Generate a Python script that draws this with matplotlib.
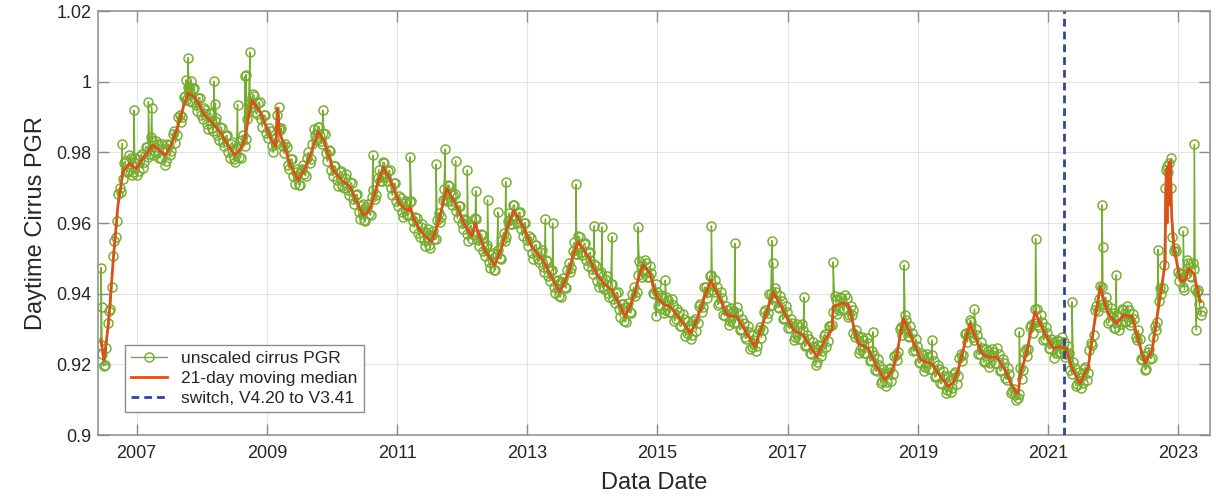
import numpy as np
import matplotlib
matplotlib.use("Agg")
import matplotlib.pyplot as plt

plt.rcParams['font.family'] = ['Liberation Sans', 'DejaVu Sans']

# ---------------- data ----------------
# 21-day moving median: (decimal year, value)
median_t = [2006.45, 2006.50, 2006.57, 2006.64, 2006.71, 2006.79, 2006.89, 2006.99,
            2007.12, 2007.25, 2007.35, 2007.45, 2007.55, 2007.63, 2007.72, 2007.79,
            2007.89, 2007.96, 2008.04, 2008.17, 2008.30, 2008.40, 2008.51, 2008.58,
            2008.66, 2008.72, 2008.77, 2008.91, 2009.07, 2009.14, 2009.16, 2009.20,
            2009.25, 2009.35, 2009.48, 2009.56, 2009.64, 2009.72, 2009.79, 2009.87,
            2009.95, 2010.02, 2010.15, 2010.28, 2010.38, 2010.48, 2010.55, 2010.61,
            2010.70, 2010.79, 2010.92, 2011.04, 2011.12, 2011.17, 2011.20, 2011.25,
            2011.35, 2011.45, 2011.53, 2011.63, 2011.70, 2011.76, 2011.85, 2011.92,
            2012.05, 2012.15, 2012.20, 2012.27, 2012.35, 2012.50, 2012.61, 2012.70,
            2012.79, 2012.94, 2013.07, 2013.17, 2013.27, 2013.37, 2013.50, 2013.63,
            2013.70, 2013.78, 2013.94, 2014.09, 2014.20, 2014.30, 2014.40, 2014.50,
            2014.58, 2014.65, 2014.72, 2014.78, 2014.88, 2014.99, 2015.10, 2015.20,
            2015.36, 2015.51, 2015.58, 2015.66, 2015.74, 2015.82, 2015.97, 2016.07,
            2016.22, 2016.37, 2016.50, 2016.62, 2016.70, 2016.78, 2016.93, 2017.09,
            2017.24, 2017.35, 2017.45, 2017.57, 2017.68, 2017.70, 2017.83, 2017.93,
            2018.08, 2018.24, 2018.35, 2018.49, 2018.58, 2018.65, 2018.72, 2018.78,
            2018.90, 2019.05, 2019.21, 2019.35, 2019.47, 2019.55, 2019.62, 2019.71,
            2019.80, 2019.90, 2019.98, 2020.10, 2020.21, 2020.34, 2020.45, 2020.52,
            2020.55, 2020.57, 2020.67, 2020.80, 2020.95, 2021.08, 2021.18, 2021.28,
            2021.36, 2021.49, 2021.62, 2021.70, 2021.80, 2021.92, 2022.05, 2022.16,
            2022.29, 2022.39, 2022.49, 2022.60, 2022.70, 2022.80, 2022.81, 2022.82,
            2022.83, 2022.84, 2022.85, 2022.86, 2022.87, 2022.88, 2022.90, 2022.94,
            2023.04, 2023.11, 2023.16, 2023.24, 2023.34]
median_v = [0.9270, 0.9212, 0.9320, 0.9495, 0.9646, 0.9745, 0.9769, 0.9754,
            0.9790, 0.9820, 0.9805, 0.9792, 0.9830, 0.9872, 0.9930, 0.9967,
            0.9957, 0.9935, 0.9905, 0.9882, 0.9853, 0.9820, 0.9792, 0.9805,
            0.9835, 0.9900, 0.9948, 0.9910, 0.9835, 0.9816, 0.9925, 0.9850,
            0.9830, 0.9769, 0.9721, 0.9745, 0.9778, 0.9820, 0.9858, 0.9835,
            0.9790, 0.9750, 0.9721, 0.9702, 0.9660, 0.9622, 0.9630, 0.9655,
            0.9710, 0.9759, 0.9712, 0.9655, 0.9640, 0.9636, 0.9645, 0.9615,
            0.9580, 0.9560, 0.9547, 0.9599, 0.9650, 0.9698, 0.9670, 0.9646,
            0.9590, 0.9563, 0.9600, 0.9560, 0.9523, 0.9481, 0.9533, 0.9590,
            0.9636, 0.9589, 0.9533, 0.9510, 0.9486, 0.9448, 0.9405, 0.9457,
            0.9505, 0.9547, 0.9504, 0.9448, 0.9425, 0.9410, 0.9375, 0.9335,
            0.9365, 0.9401, 0.9450, 0.9481, 0.9460, 0.9390, 0.9370, 0.9363,
            0.9325, 0.9288, 0.9315, 0.9354, 0.9400, 0.9438, 0.9382, 0.9339,
            0.9335, 0.9288, 0.9250, 0.9316, 0.9360, 0.9405, 0.9354, 0.9297,
            0.9283, 0.9250, 0.9221, 0.9269, 0.9297, 0.9363, 0.9373, 0.9370,
            0.9260, 0.9245, 0.9200, 0.9156, 0.9175, 0.9203, 0.9270, 0.9330,
            0.9278, 0.9212, 0.9203, 0.9165, 0.9137, 0.9150, 0.9184, 0.9250,
            0.9316, 0.9270, 0.9231, 0.9220, 0.9221, 0.9184, 0.9140, 0.9118,
            0.9125, 0.9170, 0.9231, 0.9349, 0.9288, 0.9245, 0.9250, 0.9245,
            0.9193, 0.9146, 0.9193, 0.9300, 0.9420, 0.9344, 0.9316, 0.9339,
            0.9335, 0.9269, 0.9203, 0.9240, 0.9363, 0.9486, 0.9700, 0.9750,
            0.9600, 0.9760, 0.9650, 0.9770, 0.9700, 0.9775, 0.9620, 0.9523,
            0.9434, 0.9438, 0.9471, 0.9457, 0.9377]

# unscaled cirrus PGR, read twice a month starting 2006.45 ...
green_start = 2006.45
green_step = 1.0 / 24.0
green_vals = [
    0.9255, 0.9195, 0.9245, 0.9350, 0.9420, 0.9550, 0.9605, 0.9700, 0.9725, 0.9775, 0.9750, 0.9785,
    0.9745, 0.9770, 0.9748, 0.9795, 0.9772, 0.9815, 0.9795, 0.9835, 0.9800, 0.9825, 0.9785, 0.9810,
    0.9775, 0.9822, 0.9805, 0.9860, 0.9850, 0.9905, 0.9900, 0.9960, 0.9985, 0.9945, 0.9980, 0.9935,
    0.9955, 0.9905, 0.9925, 0.9880, 0.9910, 0.9868, 0.9890, 0.9850, 0.9872, 0.9828, 0.9845, 0.9800,
    0.9825, 0.9780, 0.9812, 0.9788, 0.9835, 0.9818, 0.9895, 0.9940, 0.9965, 0.9915, 0.9940, 0.9895,
    0.9905, 0.9855, 0.9868, 0.9818, 0.9838, 0.9905, 0.9862, 0.9818, 0.9825, 0.9765, 0.9780, 0.9732,
    0.9745, 0.9708, 0.9752, 0.9738, 0.9785, 0.9770, 0.9825, 0.9848, 0.9872, 0.9832, 0.9855, 0.9798,
    0.9808, 0.9750, 0.9762, 0.9722, 0.9745, 0.9705, 0.9728, 0.9692, 0.9715, 0.9668, 0.9680, 0.9632,
    0.9648, 0.9608, 0.9645, 0.9625, 0.9675, 0.9668, 0.9728, 0.9718, 0.9772, 0.9730, 0.9748, 0.9700,
    0.9712, 0.9662, 0.9676, 0.9632, 0.9656, 0.9622, 0.9660, 0.9605, 0.9618, 0.9572, 0.9590, 0.9553,
    0.9575, 0.9538, 0.9565, 0.9555, 0.9608, 0.9603, 0.9666, 0.9668, 0.9708, 0.9662, 0.9680, 0.9634,
    0.9648, 0.9600, 0.9612, 0.9568, 0.9588, 0.9555, 0.9615, 0.9552, 0.9570, 0.9520, 0.9533, 0.9490,
    0.9510, 0.9468, 0.9512, 0.9500, 0.9553, 0.9548, 0.9606, 0.9596, 0.9650, 0.9610, 0.9628, 0.9583,
    0.9600, 0.9551, 0.9564, 0.9516, 0.9537, 0.9497, 0.9518, 0.9476, 0.9496, 0.9450, 0.9464, 0.9420,
    0.9437, 0.9392, 0.9434, 0.9420, 0.9468, 0.9461, 0.9521, 0.9512, 0.9563, 0.9519, 0.9540, 0.9496,
    0.9515, 0.9469, 0.9485, 0.9437, 0.9457, 0.9418, 0.9441, 0.9403, 0.9428, 0.9385, 0.9402, 0.9356,
    0.9370, 0.9322, 0.9363, 0.9347, 0.9400, 0.9392, 0.9452, 0.9477, 0.9464, 0.9488, 0.9446, 0.9458,
    0.9400, 0.9406, 0.9367, 0.9390, 0.9354, 0.9381, 0.9348, 0.9368, 0.9328, 0.9348, 0.9308, 0.9328,
    0.9288, 0.9308, 0.9282, 0.9328, 0.9318, 0.9370, 0.9362, 0.9418, 0.9405, 0.9452, 0.9405, 0.9420,
    0.9374, 0.9388, 0.9338, 0.9355, 0.9322, 0.9352, 0.9320, 0.9345, 0.9300, 0.9318, 0.9273, 0.9292,
    0.9250, 0.9268, 0.9252, 0.9307, 0.9298, 0.9353, 0.9344, 0.9400, 0.9388, 0.9406, 0.9360, 0.9378,
    0.9332, 0.9349, 0.9302, 0.9318, 0.9278, 0.9306, 0.9271, 0.9298, 0.9254, 0.9273, 0.9229, 0.9248,
    0.9206, 0.9253, 0.9238, 0.9286, 0.9265, 0.9308, 0.9347, 0.9382, 0.9353, 0.9389, 0.9356, 0.9387,
    0.9339, 0.9341, 0.9278, 0.9279, 0.9241, 0.9269, 0.9233, 0.9259, 0.9211, 0.9226, 0.9180, 0.9197,
    0.9153, 0.9172, 0.9150, 0.9190, 0.9174, 0.9227, 0.9235, 0.9306, 0.9312, 0.9326, 0.9276, 0.9290,
    0.9240, 0.9253, 0.9203, 0.9227, 0.9192, 0.9222, 0.9188, 0.9210, 0.9167, 0.9188, 0.9145, 0.9166,
    0.9127, 0.9157, 0.9132, 0.9178, 0.9166, 0.9228, 0.9226, 0.9289, 0.9288, 0.9321, 0.9270, 0.9282,
    0.9229, 0.9246, 0.9210, 0.9238, 0.9204, 0.9236, 0.9205, 0.9228, 0.9184, 0.9204, 0.9157, 0.9172,
    0.9124, 0.9112, 0.9105, 0.9190, 0.9183, 0.9242, 0.9242, 0.9312, 0.9318, 0.9356, 0.9306, 0.9321,
    0.9273, 0.9290, 0.9244, 0.9262, 0.9231, 0.9265, 0.9233, 0.9263, 0.9229, 0.9232, 0.9174, 0.9191,
    0.9144, 0.9162, 0.9146, 0.9192, 0.9175, 0.9260, 0.9284, 0.9366, 0.9384, 0.9420, 0.9362, 0.9367,
    0.9322, 0.9345, 0.9304, 0.9337, 0.9315, 0.9355, 0.9322, 0.9353, 0.9319, 0.9327, 0.9268, 0.9273,
    0.9213, 0.9185, 0.9234, 0.9216, 0.9277, 0.9296, 0.9379, 0.9399, 0.9482, 0.9760, 0.9770, 0.9560,
    0.9530, 0.9462, 0.9456, 0.9420, 0.9457, 0.9488, 0.9448, 0.9470, 0.9406, 0.9372, 0.9350]

# ... and the days in between (half a step later)
green_vals_mid = [
    0.9230, 0.9198, 0.9316, 0.9357, 0.9507, 0.9560, 0.9681, 0.9688, 0.9770, 0.9743, 0.9793, 0.9737,
    0.9783, 0.9737, 0.9790, 0.9756, 0.9816, 0.9787, 0.9843, 0.9793, 0.9833, 0.9785, 0.9823, 0.9765,
    0.9824, 0.9792, 0.9851, 0.9827, 0.9900, 0.9885, 0.9958, 0.9948, 0.9985, 0.9943, 0.9983, 0.9917,
    0.9955, 0.9893, 0.9921, 0.9867, 0.9911, 0.9861, 0.9898, 0.9836, 0.9870, 0.9817, 0.9848, 0.9785,
    0.9828, 0.9774, 0.9818, 0.9784, 0.9849, 0.9839, 0.9946, 0.9928, 0.9960, 0.9908, 0.9943, 0.9872,
    0.9905, 0.9840, 0.9861, 0.9800, 0.9825, 0.9870, 0.9868, 0.9797, 0.9815, 0.9753, 0.9781, 0.9711,
    0.9752, 0.9708, 0.9763, 0.9734, 0.9800, 0.9780, 0.9865, 0.9835, 0.9872, 0.9824, 0.9852, 0.9775,
    0.9804, 0.9734, 0.9760, 0.9706, 0.9747, 0.9699, 0.9738, 0.9679, 0.9712, 0.9654, 0.9681, 0.9612,
    0.9653, 0.9605, 0.9653, 0.9622, 0.9694, 0.9680, 0.9751, 0.9720, 0.9771, 0.9719, 0.9749, 0.9678,
    0.9712, 0.9647, 0.9672, 0.9616, 0.9661, 0.9623, 0.9661, 0.9587, 0.9615, 0.9561, 0.9597, 0.9536,
    0.9582, 0.9530, 0.9578, 0.9554, 0.9628, 0.9617, 0.9695, 0.9663, 0.9705, 0.9651, 0.9682, 0.9613,
    0.9649, 0.9584, 0.9608, 0.9550, 0.9594, 0.9567, 0.9612, 0.9536, 0.9565, 0.9507, 0.9537, 0.9472,
    0.9514, 0.9468, 0.9524, 0.9499, 0.9573, 0.9559, 0.9629, 0.9598, 0.9650, 0.9599, 0.9631, 0.9564,
    0.9601, 0.9536, 0.9558, 0.9499, 0.9539, 0.9490, 0.9525, 0.9461, 0.9493, 0.9437, 0.9467, 0.9401,
    0.9440, 0.9391, 0.9445, 0.9416, 0.9487, 0.9473, 0.9545, 0.9513, 0.9561, 0.9510, 0.9543, 0.9478,
    0.9517, 0.9455, 0.9479, 0.9419, 0.9460, 0.9412, 0.9450, 0.9391, 0.9427, 0.9374, 0.9404, 0.9335,
    0.9371, 0.9321, 0.9373, 0.9346, 0.9418, 0.9404, 0.9493, 0.9446, 0.9496, 0.9447, 0.9477, 0.9401,
    0.9428, 0.9365, 0.9397, 0.9344, 0.9390, 0.9347, 0.9386, 0.9323, 0.9358, 0.9308, 0.9343, 0.9280,
    0.9323, 0.9273, 0.9323, 0.9295, 0.9366, 0.9348, 0.9418, 0.9387, 0.9449, 0.9409, 0.9438, 0.9369,
    0.9406, 0.9341, 0.9365, 0.9311, 0.9359, 0.9318, 0.9361, 0.9298, 0.9329, 0.9276, 0.9308, 0.9243,
    0.9284, 0.9238, 0.9298, 0.9275, 0.9348, 0.9331, 0.9400, 0.9369, 0.9417, 0.9363, 0.9394, 0.9327,
    0.9366, 0.9304, 0.9328, 0.9270, 0.9314, 0.9271, 0.9313, 0.9251, 0.9284, 0.9231, 0.9264, 0.9199,
    0.9255, 0.9224, 0.9280, 0.9248, 0.9309, 0.9310, 0.9393, 0.9343, 0.9391, 0.9353, 0.9397, 0.9335,
    0.9365, 0.9288, 0.9297, 0.9232, 0.9277, 0.9233, 0.9274, 0.9210, 0.9239, 0.9183, 0.9214, 0.9147,
    0.9188, 0.9139, 0.9188, 0.9154, 0.9223, 0.9213, 0.9299, 0.9284, 0.9339, 0.9281, 0.9308, 0.9237,
    0.9272, 0.9206, 0.9233, 0.9182, 0.9229, 0.9187, 0.9227, 0.9164, 0.9198, 0.9147, 0.9181, 0.9119,
    0.9167, 0.9123, 0.9173, 0.9144, 0.9219, 0.9209, 0.9286, 0.9264, 0.9325, 0.9276, 0.9301, 0.9228,
    0.9263, 0.9206, 0.9242, 0.9193, 0.9242, 0.9203, 0.9245, 0.9181, 0.9214, 0.9161, 0.9190, 0.9120,
    0.9130, 0.9100, 0.9115, 0.9159, 0.9235, 0.9224, 0.9305, 0.9290, 0.9357, 0.9311, 0.9339, 0.9269,
    0.9307, 0.9245, 0.9271, 0.9219, 0.9270, 0.9231, 0.9276, 0.9221, 0.9251, 0.9183, 0.9208, 0.9140,
    0.9178, 0.9132, 0.9187, 0.9156, 0.9240, 0.9254, 0.9353, 0.9350, 0.9422, 0.9371, 0.9390, 0.9317,
    0.9359, 0.9303, 0.9339, 0.9298, 0.9357, 0.9321, 0.9366, 0.9311, 0.9343, 0.9278, 0.9296, 0.9215,
    0.9224, 0.9188, 0.9243, 0.9219, 0.9309, 0.9320, 0.9417, 0.9416, 0.9700, 0.9745, 0.9700, 0.9520,
    0.9521, 0.9437, 0.9456, 0.9411, 0.9495, 0.9450, 0.9487, 0.9413, 0.9409, 0.9341]

# isolated high / low daily values (outliers)
spike_t = [2006.455, 2006.46, 2006.78, 2006.96, 2007.18, 2007.23, 2007.76, 2007.79,
           2007.83, 2008.19, 2008.21, 2008.55, 2008.66, 2008.68, 2008.74, 2009.18,
           2009.86, 2010.63, 2011.20, 2011.60, 2011.74, 2011.90, 2012.08, 2012.21,
           2012.39, 2012.55, 2012.67, 2013.28, 2013.39, 2013.75, 2014.03, 2014.15,
           2014.30, 2014.70, 2014.98, 2015.12, 2015.83, 2016.19, 2016.76, 2016.77,
           2017.25, 2017.70, 2018.00, 2018.31, 2018.79, 2019.22, 2019.87, 2020.56,
           2020.81, 2021.37, 2021.83, 2021.84, 2022.05, 2022.69, 2022.81, 2022.89,
           2023.08, 2023.25, 2023.28]
spike_v = [0.9474, 0.9363, 0.9825, 0.9919, 0.9943, 0.9926, 1.0005, 1.0068,
           1.0003, 1.0001, 0.9938, 0.9935, 1.0016, 1.0020, 1.0083, 0.9927,
           0.9919, 0.9792, 0.9787, 0.9766, 0.9809, 0.9776, 0.9750, 0.9691,
           0.9665, 0.9630, 0.9717, 0.9611, 0.9600, 0.9709, 0.9592, 0.9589,
           0.9561, 0.9589, 0.9337, 0.9438, 0.9592, 0.9542, 0.9550, 0.9488,
           0.9390, 0.9490, 0.9354, 0.9292, 0.9481, 0.9269, 0.9356, 0.9292,
           0.9556, 0.9377, 0.9651, 0.9533, 0.9453, 0.9525, 0.9750, 0.9783,
           0.9577, 0.9823, 0.9297]

switch_date = 2021.25
x_ticks = [2007, 2009, 2011, 2013, 2015, 2017, 2019, 2021, 2023]
y_ticks = [0.90, 0.92, 0.94, 0.96, 0.98, 1.00, 1.02]
y_tick_labels = ['0.9', '0.92', '0.94', '0.96', '0.98', '1', '1.02']

# ---------------- build ----------------
t_a = green_start + green_step * np.arange(len(green_vals))
t_b = green_start + green_step * (np.arange(len(green_vals_mid)) + 0.5)
all_t = np.concatenate([t_a, t_b, np.array(spike_t)])
all_v = np.concatenate([np.array(green_vals), np.array(green_vals_mid), np.array(spike_v)])
order = np.argsort(all_t, kind='stable')
all_t, all_v = all_t[order], all_v[order]

GREEN = '#77AC30'
RED = '#D95319'
BLUE = '#33449C'
AXC = '#8c8c8c'
TXT = '#262626'

fig = plt.figure(figsize=(12.16, 4.98), dpi=100)
ax = fig.add_axes([0.0808, 0.1265, 0.9143, 0.8514])

ax.plot(all_t, all_v, '-o', color=GREEN, lw=1.0, ms=6.5, mew=1.05,
        mfc='none', mec=GREEN, label='unscaled cirrus PGR', zorder=2)
ax.plot(median_t, median_v, '-', color=RED, lw=2.0,
        label='21-day moving median', zorder=3)
ax.axvline(switch_date, color=BLUE, lw=2.0, dashes=(2.8, 1.8),
           label='switch, V4.20 to V3.41', zorder=4)

ax.set_xlim(2006.41, 2023.49)
ax.set_ylim(0.9, 1.02)
ax.set_xticks(x_ticks)
ax.set_xticklabels([str(v) for v in x_ticks])
ax.set_yticks(y_ticks)
ax.set_yticklabels(y_tick_labels)

ax.grid(True, color='#e4e4e4', lw=0.8, zorder=0)
ax.set_axisbelow(True)
for s in ax.spines.values():
    s.set_color(AXC)
    s.set_linewidth(1.1)
ax.tick_params(direction='in', length=8, width=1.0, top=True, right=True,
               color=AXC, labelcolor=TXT, labelsize=13)
ax.tick_params(axis='x', pad=7)
ax.tick_params(axis='y', pad=5)

ax.set_xlabel('Data Date', fontsize=17, color=TXT)
ax.set_ylabel('Daytime Cirrus PGR', fontsize=17, color=TXT)
ax.xaxis.set_label_coords(0.5, -0.088)
ax.yaxis.set_label_coords(-0.046, 0.5)

leg = ax.legend(loc='lower left', bbox_to_anchor=(0.024, 0.054), borderaxespad=0,
                fontsize=12.5, frameon=True, fancybox=False, framealpha=1,
                edgecolor=AXC, borderpad=0.35, handlelength=2.1,
                handletextpad=0.8, labelspacing=0.28, numpoints=1)
leg.get_frame().set_linewidth(1.0)
for t in leg.get_texts():
    t.set_color(TXT)

fig.savefig('out.png', dpi=100)
